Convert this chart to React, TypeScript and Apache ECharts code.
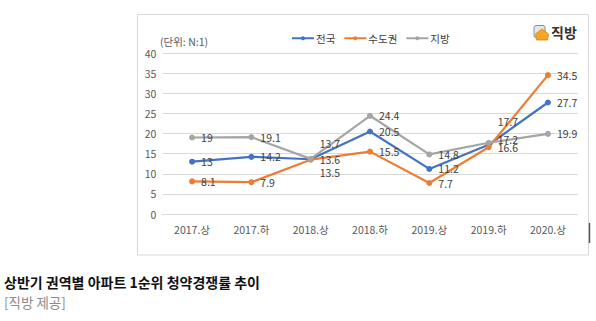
import React, { useEffect, useRef } from "react";
import * as echarts from "echarts";

const categories = ["2017.상", "2017.하", "2018.상", "2018.하", "2019.상", "2019.하", "2020.상"];
const nationwide = [13, 14.2, 13.6, 20.5, 11.2, 17.2, 27.7];
const capital = [8.1, 7.9, 13.5, 15.5, 7.7, 16.6, 34.5];
const regional = [19, 19.1, 13.7, 24.4, 14.8, 17.7, 19.9];
const seriesNames = ["전국", "수도권", "지방"];
const yTicks = { min: 0, max: 40, interval: 5 };

const FONT = "'Noto Sans CJK KR', 'Noto Sans', sans-serif";

function withOffsets(values: number[], offsets: Record<number, [number, number]>) {
  return values.map((v, i) =>
    offsets[i] ? { value: v, label: { offset: offsets[i] } } : v
  );
}

export default function App() {
  const ref = useRef<HTMLDivElement>(null);
  useEffect(() => {
    if (!ref.current) return;
    const chart = echarts.init(ref.current, null, { renderer: "svg" });
    const labelBase = {
      show: true,
      position: "right" as const,
      distance: 6,
      fontSize: 10.5,
      color: "#404040",
      fontFamily: FONT,
    };
    const mk = (name: string, color: string, data: any[]) => ({
      name,
      type: "line",
      data,
      symbol: "circle",
      symbolSize: 6,
      lineStyle: { color, width: 2.2 },
      itemStyle: { color },
      label: labelBase,
      z: 3,
    });
    chart.setOption({
      animation: false,
      backgroundColor: "#ffffff",
      textStyle: { fontFamily: FONT },
      graphic: [
        {
          type: "rect",
          shape: { x: 137.5, y: 14.5, width: 451, height: 240.5 },
          style: { fill: "#ffffff", stroke: "#d9d9d9", lineWidth: 1 },
          z: -10,
          silent: true,
        },
        {
          type: "line",
          shape: { x1: 589.5, y1: 223, x2: 589.5, y2: 243 },
          style: { stroke: "#555555", lineWidth: 1.5 },
        },
        {
          type: "text",
          left: 160,
          top: 36,
          style: { text: "(단위: N:1)", fontSize: 10.5, fill: "#595959", fontFamily: FONT },
        },
        {
          type: "rect",
          shape: { x: 534, y: 25.5, width: 11, height: 12, r: 2 },
          style: { fill: "#e6e6e6", stroke: "#8c8c8c", lineWidth: 1 },
        },
        {
          type: "polygon",
          shape: { points: [[542, 29], [548.5, 34], [547.5, 40], [536.5, 40], [535.5, 34]] },
          style: { fill: "#f5a623", stroke: "#d98200", lineWidth: 0.8 },
        },
        {
          type: "text",
          left: 551,
          top: 25,
          style: { text: "직방", fontSize: 14, fontWeight: "bold", fill: "#333333", fontFamily: FONT },
        },
        {
          type: "text",
          left: 4,
          top: 275,
          style: {
            text: "상반기 권역별 아파트 1순위 청약경쟁률 추이",
            fontSize: 14,
            fontWeight: "bold",
            fill: "#111111",
            fontFamily: FONT,
          },
        },
        {
          type: "text",
          left: 4,
          top: 295,
          style: { text: "[직방 제공]", fontSize: 13.5, fill: "#8c8c8c", fontFamily: FONT },
        },
      ],
      legend: {
        data: seriesNames,
        top: 28,
        left: 286,
        itemWidth: 22,
        itemHeight: 5,
        itemGap: 8,
        itemStyle: { borderWidth: 0 },
        textStyle: { fontSize: 10.5, color: "#404040", fontFamily: FONT, padding: [0, 0, 0, -3] },
      },
      grid: { left: 162.4, right: 18.4, top: 53, bottom: 107, containLabel: false },
      xAxis: {
        type: "category",
        data: categories,
        boundaryGap: true,
        axisLine: { show: true, lineStyle: { color: "#d9d9d9" } },
        axisTick: { show: false },
        axisLabel: { color: "#595959", fontSize: 10.5, margin: 10, fontFamily: FONT },
      },
      yAxis: {
        type: "value",
        min: yTicks.min,
        max: yTicks.max,
        interval: yTicks.interval,
        axisLine: { show: false },
        axisTick: { show: false },
        axisLabel: { color: "#595959", fontSize: 10.5, margin: 6, fontFamily: FONT },
        splitLine: { lineStyle: { color: "#d9d9d9" } },
      },
      series: [
        mk(seriesNames[0], "#4472c4", withOffsets(nationwide, { 5: [0, -5] })),
        mk(seriesNames[1], "#ed7d31", withOffsets(capital, { 2: [0, 13] })),
        mk(seriesNames[2], "#a5a5a5", withOffsets(regional, { 2: [0, -15], 5: [0, -21] })),
      ],
    });
    return () => chart.dispose();
  }, []);
  return (
    <div
      ref={ref}
      style={{ position: "fixed", left: 0, top: 0, width: 596, height: 321 }}
    />
  );
}
